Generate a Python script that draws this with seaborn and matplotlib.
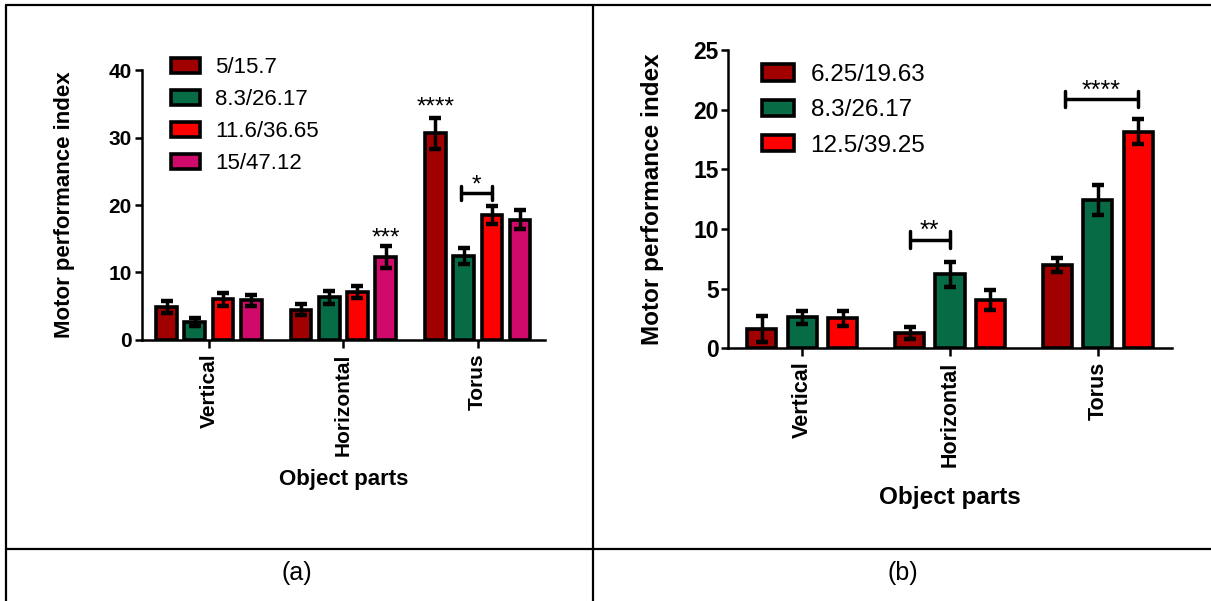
import matplotlib
matplotlib.use("Agg")
import matplotlib.pyplot as plt
from matplotlib.lines import Line2D
import seaborn as sns
import pandas as pd

# categories
parts = ["Vertical", "Horizontal", "Torus"]

# panel (a): group labels, means and error (SEM) per object part
groups_a = ["5/15.7", "8.3/26.17", "11.6/36.65", "15/47.12"]
mean_a_5 = [4.9, 4.5, 30.6]
mean_a_83 = [2.6, 6.3, 12.4]
mean_a_116 = [6.0, 7.1, 18.5]
mean_a_15 = [5.9, 12.3, 17.8]
err_a_5 = [0.9, 0.8, 2.3]
err_a_83 = [0.6, 1.0, 1.2]
err_a_116 = [1.0, 0.9, 1.3]
err_a_15 = [0.8, 1.6, 1.4]

# panel (b)
groups_b = ["6.25/19.63", "8.3/26.17", "12.5/39.25"]
mean_b_625 = [1.6, 1.25, 7.0]
mean_b_83 = [2.6, 6.2, 12.4]
mean_b_125 = [2.5, 4.05, 18.15]
err_b_625 = [1.1, 0.5, 0.6]
err_b_83 = [0.55, 1.05, 1.25]
err_b_125 = [0.6, 0.8, 1.05]

colors_a = ["#A00000", "#076B45", "#FF0000", "#CF0A6B"]
colors_b = ["#A00000", "#076B45", "#FF0000"]

sns.set_style("ticks")
plt.rcParams["font.family"] = ["Liberation Sans", "DejaVu Sans"]
plt.rcParams["text.color"] = "black"
plt.rcParams["axes.labelcolor"] = "black"
plt.rcParams["xtick.color"] = "black"
plt.rcParams["ytick.color"] = "black"


def make_df(groups, means):
    rows = []
    for g, vals in zip(groups, means):
        for p, v in zip(parts, vals):
            rows.append({"part": p, "group": g, "value": v})
    return pd.DataFrame(rows)


def draw_panel(ax, groups, means, errs, colors, width, gap, fs):
    df = make_df(groups, means)
    sns.barplot(data=df, x="part", y="value", hue="group", order=parts,
                hue_order=groups, palette=colors, errorbar=None, ax=ax,
                width=width, gap=gap, edgecolor="black", linewidth=2.6,
                saturation=1)
    bar_conts = list(ax.containers)
    xcs = []
    for cont, es in zip(bar_conts, errs):
        row = []
        for bar, e in zip(cont, es):
            xc = bar.get_x() + bar.get_width() / 2
            row.append(xc)
            ax.errorbar(xc, bar.get_height(), yerr=e, fmt="none",
                        ecolor="black", elinewidth=2.5, capsize=4.5,
                        capthick=3.2, zorder=5)
        xcs.append(row)
    sns.despine(ax=ax)
    for s in ["left", "bottom"]:
        ax.spines[s].set_linewidth(1.8)
        ax.spines[s].set_color("black")
    ax.tick_params(axis="both", width=1.8, length=5, color="black")
    ax.tick_params(axis="y", labelsize=fs["ytick"], pad=2)
    ax.tick_params(axis="x", labelsize=fs["xtick"], rotation=90, length=6)
    for lab in ax.get_xticklabels() + ax.get_yticklabels():
        lab.set_fontweight("bold")
    ax.set_xlim(-0.5, 2.5)
    ax.set_xlabel("Object parts", fontsize=fs["xlabel"], fontweight="bold")
    ax.set_ylabel("Motor performance index", fontsize=fs["ylabel"],
                  fontweight="bold")
    return xcs


def bracket(ax, x0, x1, y, dy, text, fs):
    ax.plot([x0, x1], [y, y], color="black", lw=2.5, solid_capstyle="butt")
    ax.plot([x0, x0], [y - dy, y + dy], color="black", lw=2.5)
    ax.plot([x1, x1], [y - dy, y + dy], color="black", lw=2.5)
    ax.annotate(text, xy=((x0 + x1) / 2, y), xytext=(0, 1),
                textcoords="offset points", ha="center", va="baseline",
                fontsize=fs)


fig = plt.figure(figsize=(12.11, 6.01), dpi=100)

# panel (a)
ax1 = fig.add_axes([0.117, 0.4343, 0.333, 0.4492])
c1 = draw_panel(ax1, groups_a, [mean_a_5, mean_a_83, mean_a_116, mean_a_15],
                [err_a_5, err_a_83, err_a_116, err_a_15], colors_a,
                width=0.84, gap=0.27,
                fs={"ytick": 15, "xtick": 15, "xlabel": 16, "ylabel": 16})
ax1.set_ylim(0, 40)
ax1.set_yticks([0, 10, 20, 30, 40])
ax1.yaxis.labelpad = 24
ax1.xaxis.labelpad = 10
ax1.annotate("****", xy=(c1[0][2], mean_a_5[2] + err_a_5[2]), xytext=(0, 3),
             textcoords="offset points", ha="center", va="baseline", fontsize=17.5)
ax1.annotate("***", xy=(c1[3][1], mean_a_15[1] + err_a_15[1]), xytext=(0, 1),
             textcoords="offset points", ha="center", va="baseline", fontsize=17.5)
bracket(ax1, c1[1][2] - 0.02, c1[2][2], 21.8, 1.0, "*", 17.5)
leg1 = ax1.legend(loc="upper left", bbox_to_anchor=(171 / 1211, 1 - 57 / 601),
                  bbox_transform=fig.transFigure, frameon=False, fontsize=16,
                  handlelength=1.3, handleheight=0.65, handletextpad=0.7,
                  labelspacing=0.5, borderpad=0, borderaxespad=0)

# panel (b)
ax2 = fig.add_axes([0.6014, 0.4205, 0.3661, 0.4963])
c2 = draw_panel(ax2, groups_b, [mean_b_625, mean_b_83, mean_b_125],
                [err_b_625, err_b_83, err_b_125], colors_b,
                width=0.82, gap=0.28,
                fs={"ytick": 16.5, "xtick": 15.5, "xlabel": 17.5, "ylabel": 17.5})
ax2.set_ylim(0, 25)
ax2.set_yticks([0, 5, 10, 15, 20, 25])
ax2.yaxis.labelpad = 21
ax2.xaxis.labelpad = 14
bracket(ax2, c2[0][1], c2[1][1], 9.1, 0.7, "**", 18)
bracket(ax2, c2[0][2] + 0.05, c2[2][2], 20.9, 0.7, "****", 18)
leg2 = ax2.legend(loc="upper left", bbox_to_anchor=(762 / 1211, 1 - 64 / 601),
                  bbox_transform=fig.transFigure, frameon=False, fontsize=17.5,
                  handlelength=1.3, handleheight=0.65, handletextpad=0.7,
                  labelspacing=0.55, borderpad=0, borderaxespad=0)

# table-like frame and captions
W, H = 1211, 601
def fline(x0, y0, x1, y1):
    fig.add_artist(Line2D([x0 / W, x1 / W], [1 - y0 / H, 1 - y1 / H],
                          color="black", lw=1.6, transform=fig.transFigure))

fline(6, 5, 1211, 5)
fline(6, 5, 6, 601)
fline(593, 5, 593, 601)
fline(6, 549, 1211, 549)
fig.text(297 / W, 1 - 573 / H, "(a)", ha="center", va="center", fontsize=18)
fig.text(903 / W, 1 - 573 / H, "(b)", ha="center", va="center", fontsize=18)

fig.savefig("out.png", dpi=100)
